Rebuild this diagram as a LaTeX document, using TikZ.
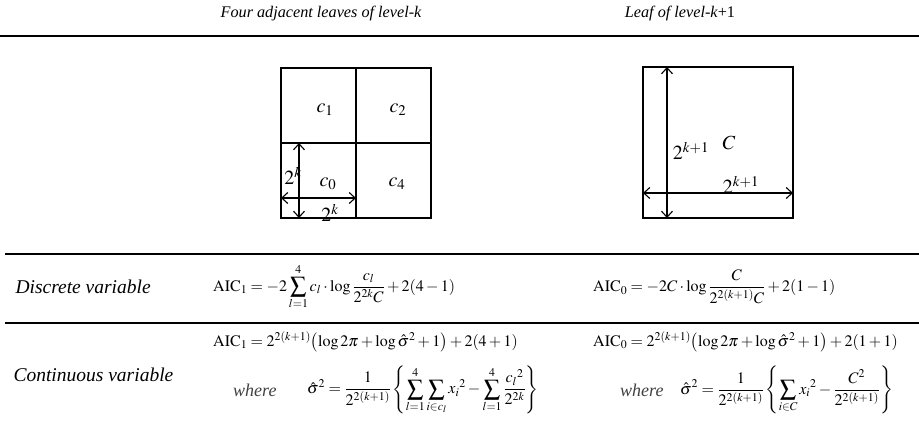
\documentclass[tikz,border=0pt]{standalone}
\usepackage{amsmath}
\usepackage{mathptmx}
\usepackage{fontspec}
\setmainfont{Liberation Serif}
\usepackage{tikz}
\usetikzlibrary{arrows.meta,positioning}

\begin{document}
\begin{tikzpicture}[
  x=1pt, y=-1pt,
  cellline/.style={line width=2pt},
  rule/.style={line width=2.4pt},
  dimarr/.style={{Straight Barb[length=6pt,width=11pt]}-{Straight Barb[length=6pt,width=11pt]}, line width=1.1pt},
  head/.style={font=\fontsize{16.2}{19}\selectfont\itshape},
  rowname/.style={font=\fontsize{19.5}{23}\selectfont\itshape, anchor=west},
  formula/.style={font=\fontsize{16}{19}\selectfont, anchor=west, inner sep=0pt},
  celltxt/.style={font=\fontsize{20}{24}\selectfont},
  wherebox/.style={font=\fontsize{18}{21}\selectfont\itshape, text=black!75, anchor=west, inner sep=0pt},
]
\useasboundingbox (0,0) rectangle (919,426);

% Headings
\node[head] (hleft) at (321,14) {Four adjacent leaves of level-\textit{k}};
\node[head] (hright) at (680,14) {Leaf of level-\textit{k}\textup{+1}};

% Rules
\coordinate (r1a) at (0,36);   \coordinate (r1b) at (919,36);
\coordinate (r2a) at (5,254);  \coordinate (r2b) at (919,254);
\coordinate (r3a) at (5,323);  \coordinate (r3b) at (919,323);
\draw[rule] (r1a) -- (r1b);
\draw[rule] (r2a) -- (r2b);
\draw[rule] (r3a) -- (r3b);

% Four leaves of level-k
\coordinate (g00) at (281,218); \coordinate (g11) at (356,143); \coordinate (g22) at (431,68);
\draw[cellline] (g00) rectangle (g22);
\draw[cellline] (g00 |- g22) ++(75,0) -- ++(0,150);
\draw[cellline] (g00) ++(0,-75) -- ++(150,0);
\node[celltxt] (c1) at (325,110) {$c_1$};
\node[celltxt] (c2) at (398,110) {$c_2$};
\node[celltxt] (c0) at (328,184) {$c_0$};
\node[celltxt] (c4) at (397,184) {$c_4$};

\coordinate (vk1) at (299,143); \coordinate (vk2) at (299,218);
\coordinate (hk1) at (281,198); \coordinate (hk2) at (356,198);
\draw[dimarr] (vk1) -- (vk2);
\draw[dimarr] (hk1) -- (hk2);
\node[celltxt] (lvk) at (293,176) {$2^k$};
\node[celltxt] (lhk) at (330,213) {$2^k$};

% Leaf of level-k+1
\coordinate (bl) at (643,218); \coordinate (tr) at (793,67);
\draw[cellline] (bl) rectangle (tr);
\coordinate (vb1) at (667,67); \coordinate (vb2) at (667,218);
\coordinate (hb1) at (643,193); \coordinate (hb2) at (793,193);
\draw[dimarr] (vb1) -- (vb2);
\draw[dimarr] (hb1) -- (hb2);
\node[celltxt] (lvb) at (691,151) {$2^{k+1}$};
\node[celltxt] (bigc) at (729,143) {$C$};
\node[celltxt] (lhb) at (741,185) {$2^{k+1}$};

% Discrete variable
\node[rowname] (disc) at (12,287) {Discrete variable};
\node[formula] (aicd1) at (213,287)
  {$\displaystyle \mathrm{AIC}_1 = -2\sum_{l=1}^{4} c_l\cdot\log\frac{c_l}{2^{2k}C} + 2(4-1)$};
\node[formula] (aicd0) at (593,287)
  {$\displaystyle \mathrm{AIC}_0 = -2C\cdot\log\frac{C}{2^{2(k+1)}C} + 2(1-1)$};

% Continuous variable
\node[rowname] (cont) at (10,375) {Continuous variable};
\node[formula] (aicc1) at (213,342)
  {$\mathrm{AIC}_1 = 2^{2(k+1)}\bigl(\log 2\pi + \log\hat{\sigma}^2 + 1\bigr) + 2(4+1)$};
\node[wherebox] (wh1) at (233,390) {where};
\node[formula] (sig1) at (307,390)
  {$\displaystyle \hat{\sigma}^2 = \frac{1}{2^{2(k+1)}}\left\{\sum_{l=1}^{4}\sum_{i\in c_l} x_i{}^2 - \sum_{l=1}^{4}\frac{c_l{}^2}{2^{2k}}\right\}$};
\node[formula] (aicc0) at (593,342)
  {$\mathrm{AIC}_0 = 2^{2(k+1)}\bigl(\log 2\pi + \log\hat{\sigma}^2 + 1\bigr) + 2(1+1)$};
\node[wherebox] (wh0) at (620,390) {where};
\node[formula] (sig0) at (680,390)
  {$\displaystyle \hat{\sigma}^2 = \frac{1}{2^{2(k+1)}}\left\{\sum_{i\in C} x_i{}^2 - \frac{C^2}{2^{2(k+1)}}\right\}$};

\end{tikzpicture}
\end{document}
